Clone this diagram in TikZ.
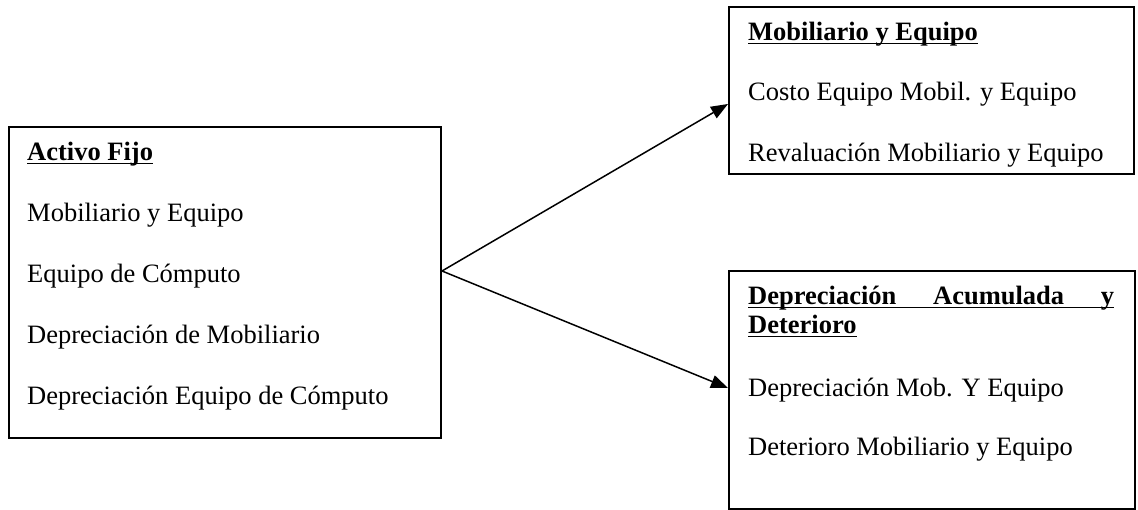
\documentclass[tikz,border=0pt]{standalone}
\usepackage{fontspec}
\setmainfont{Liberation Serif}
\usetikzlibrary{arrows.meta}

\tikzset{
  box/.style={draw=black, line width=2pt, inner sep=0pt, anchor=north west},
  txt/.style={anchor=base west, inner sep=0pt, font=\fontsize{26.5}{30}\selectfont},
  uline/.style={line width=1.4pt},
  arr/.style={line width=1.5pt, -{Triangle[length=17pt,width=13pt]}}
}

\begin{document}
\begin{tikzpicture}[x=1pt, y=-1pt]
  \useasboundingbox (0,0) rectangle (1138,510);

  % Left box: Activo Fijo
  \node[box, minimum width=432pt, minimum height=311pt] (la) at (8,126) {};
  \node[txt] (la0) at (27,161) {\textbf{Activo Fijo}};
  \node[txt] (la1) at (27,222) {Mobiliario y Equipo};
  \node[txt] (la2) at (27,283) {Equipo de Cómputo};
  \node[txt] (la3) at (27,344) {Depreciación de Mobiliario};
  \node[txt] (la4) at (27,405) {Depreciación Equipo de Cómputo};
  \draw[uline] ([yshift=-2.5pt]la0.base west) -- ([yshift=-2.5pt]la0.base east);

  % Upper right box: Mobiliario y Equipo
  \node[box, minimum width=405pt, minimum height=167pt] (mr) at (728,6) {};
  \node[txt] (mr0) at (748,41) {\textbf{Mobiliario y Equipo}};
  \node[txt] (mr1) at (748,101) {Costo Equipo Mobil. y Equipo};
  \node[txt] (mr2) at (748,162) {Revaluación Mobiliario y Equipo};
  \draw[uline] ([yshift=-2.5pt]mr0.base west) -- ([yshift=-2.5pt]mr0.base east);

  % Lower right box: Depreciación Acumulada y Deterioro
  \node[box, minimum width=406pt, minimum height=238pt] (lr) at (728,270) {};
  \node[txt] (lr0) at (748,305)
    {\hbox to 366pt{\textbf{Depreciación}\hfill\textbf{Acumulada}\hfill\textbf{y}}};
  \node[txt] (lr1) at (748,334) {\textbf{Deterioro}};
  \node[txt] (lr2) at (748,397) {Depreciación Mob. Y Equipo};
  \node[txt] (lr3) at (748,456) {Deterioro Mobiliario y Equipo};
  \draw[uline] ([yshift=-2.5pt]lr0.base west) -- ([yshift=-2.5pt]lr0.base east);
  \draw[uline] ([yshift=-2.5pt]lr1.base west) -- ([yshift=-2.5pt]lr1.base east);

  % Connectors
  \coordinate (fork) at ([yshift=11.5pt]la.east);
  \draw[arr] (fork) -- ([yshift=-13.5pt]mr.west);
  \draw[arr] (fork) -- ([yshift=2pt]lr.west);
\end{tikzpicture}
\end{document}
